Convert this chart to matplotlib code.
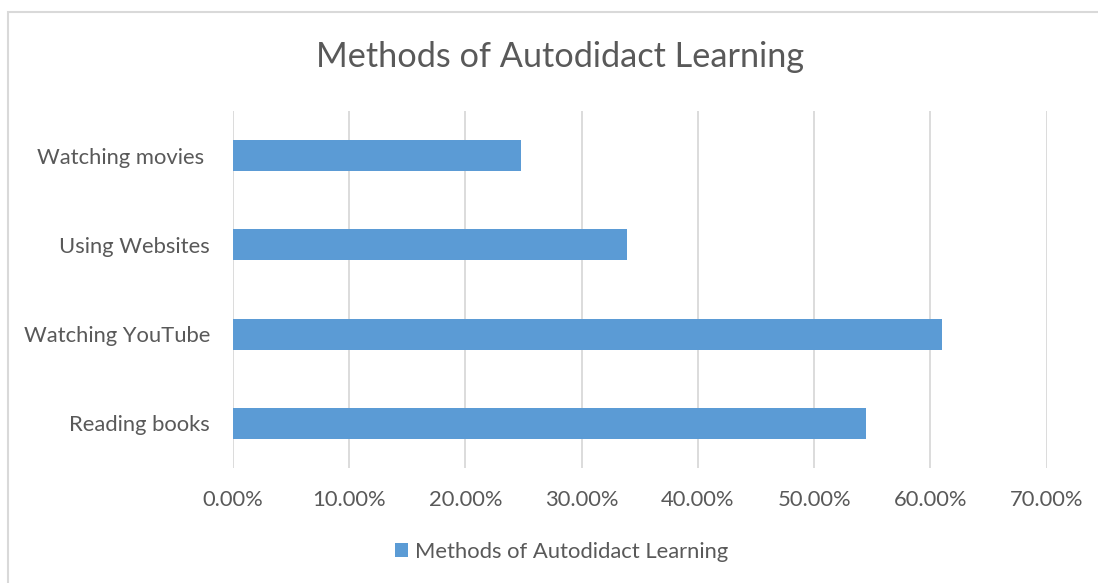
import matplotlib
matplotlib.use("Agg")
import matplotlib.pyplot as plt
from matplotlib.patches import Rectangle, Patch
from matplotlib.ticker import FuncFormatter, MultipleLocator

categories = ["Reading books", "Watching YouTube", "Using Websites", "Watching movies "]
values = [0.5445, 0.610, 0.3386, 0.2476]
series_name = "Methods of Autodidact Learning"
title = "Methods of Autodidact Learning"

plt.rcParams['font.family'] = ['Lato', 'DejaVu Sans']
W, H = 1098, 583
fig = plt.figure(figsize=(W / 100, H / 100), dpi=100)
text_color = "#595959"
grid_color = "#d9d9d9"
bar_color = "#5B9BD5"

# outer chart border
fig.patches.append(Rectangle((8 / W, 0 - 0.01), 1.1, 1 - 12 / H + 0.01, transform=fig.transFigure,
                             fill=False, edgecolor=grid_color, linewidth=1.5))

ax = fig.add_axes([233 / W, 1 - 468 / H, (1046.7 - 233) / W, (468 - 111) / H])
y = list(range(len(categories)))
ax.barh(y, values, height=0.35, color=bar_color, zorder=3)
ax.set_xlim(0, 0.70)
ax.set_ylim(-0.5, len(categories) - 0.5)
ax.set_yticks(y)
ax.set_yticklabels(categories)
ax.xaxis.set_major_locator(MultipleLocator(0.10))
ax.xaxis.set_major_formatter(FuncFormatter(lambda v, p: f"{v * 100:.2f}%"))
ax.grid(axis="x", color=grid_color, linewidth=1.3, zorder=0)
for s in ax.spines.values():
    s.set_visible(False)
ax.tick_params(axis="both", length=0, labelsize=15.8, labelcolor=text_color)
ax.tick_params(axis="y", pad=16.5)
ax.tick_params(axis="x", pad=15.5)

fig.text(560 / W, 1 - 57 / H, title, ha="center", va="center", fontsize=24.7, color=text_color)

handles = [Patch(facecolor=bar_color, edgecolor="none", label=series_name)]
fig.legend(handles=handles, loc="center", bbox_to_anchor=(562 / W, 1 - 552 / H), frameon=False,
           fontsize=15.8, labelcolor=text_color, handlelength=0.6, handleheight=0.6,
           handletextpad=0.32)

fig.savefig("out.png", dpi=100)
